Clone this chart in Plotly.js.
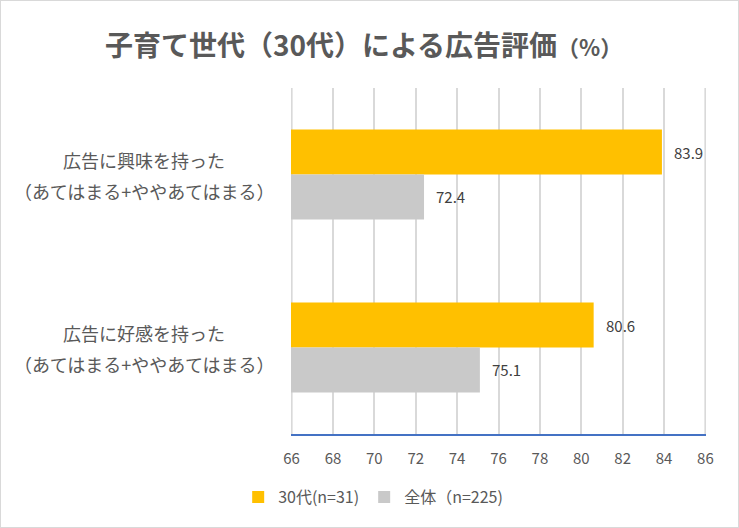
<!DOCTYPE html>
<html>
<head>
<meta charset="utf-8">
<script src="https://cdn.plot.ly/plotly-3.0.1.min.js"></script>
<style>
html,body{margin:0;padding:0;background:#fff;}
#chart{width:737px;height:526px;border:1px solid #D9D9D9;}
</style>
</head>
<body>
<div id="chart"></div>
<script>
const categories = ["広告に興味を持った\n（あてはまる+ややあてはまる）", "広告に好感を持った\n（あてはまる+ややあてはまる）"];
const series30s = [83.9, 80.6];
const seriesAll = [72.4, 75.1];
const seriesNames = ["30代(n=31)", "全体（n=225)"];
const xTicks = [66, 68, 70, 72, 74, 76, 78, 80, 82, 84, 86];

const FONT = '"Noto Sans CJK JP", "Noto Sans", sans-serif';
const catIds = categories.map((c, i) => 'c' + i);

const traces = [
  {type: 'bar', orientation: 'h', name: seriesNames[0], y: catIds, x: series30s,
   marker: {color: '#FFC000'}, hoverinfo: 'x'},
  {type: 'bar', orientation: 'h', name: seriesNames[1], y: catIds, x: seriesAll,
   marker: {color: '#C9C9C9'}, hoverinfo: 'x'}
];

const annotations = [];
// value labels
[series30s, seriesAll].forEach((arr, si) => {
  arr.forEach((v, i) => {
    annotations.push({
      x: v, y: catIds[i], xref: 'x', yref: 'y', text: v.toFixed(1),
      showarrow: false, xanchor: 'left', xshift: 10,
      yshift: si === 0 ? 22 : -22,
      font: {family: FONT, size: 15, color: '#404040'}
    });
  });
});
// category labels (two lines each)
categories.forEach((c, i) => {
  const lines = c.split('\n');
  lines.forEach((ln, li) => {
    annotations.push({
      x: -0.354, y: catIds[i], xref: 'paper', yref: 'y', text: ln,
      showarrow: false, xanchor: 'center', yshift: li === 0 ? 15 : -16,
      font: {family: FONT, size: 18, color: '#595959'}
    });
  });
});

// edge gridlines (at first and last tick) that Plotly skips at the plot border
const shapes = [xTicks[0], xTicks[xTicks.length - 1]].map(v => ({
  type: 'line', xref: 'x', yref: 'paper', x0: v, x1: v, y0: 0, y1: 1,
  line: {color: '#D9D9D9', width: 2}, layer: 'below'
}));

const layout = {
  width: 737, height: 526,
  margin: {l: 290, r: 32, t: 87, b: 93, pad: 0, autoexpand: false},
  paper_bgcolor: '#fff', plot_bgcolor: '#fff',
  font: {family: FONT, color: '#595959'},
  title: {
    text: '<b>子育て世代（30代）による広告評価</b><span style="font-size:22px"><b>（%）</b></span>',
    font: {family: FONT, size: 28, color: '#595959'},
    x: 0.492, xanchor: 'center', y: 0.914, yanchor: 'middle'
  },
  barmode: 'group', bargap: 0.48, bargroupgap: 0,
  xaxis: {
    range: [65.97, 86.03], tickvals: xTicks, ticktext: xTicks.map(String),
    showgrid: true, gridcolor: '#D9D9D9', gridwidth: 2,
    showline: true, linecolor: '#4472C4', linewidth: 2,
    zeroline: false, ticks: '', ticklabelstandoff: 10,
    tickfont: {family: FONT, size: 15, color: '#595959'}, fixedrange: true
  },
  yaxis: {
    autorange: 'reversed', showticklabels: false, showgrid: false,
    zeroline: false, showline: false, ticks: '', fixedrange: true
  },
  showlegend: true,
  legend: {
    orientation: 'h', xref: 'container', yref: 'container',
    x: 0.505, xanchor: 'center', y: 0.057, yanchor: 'middle',
    font: {family: FONT, size: 16, color: '#595959'}, traceorder: 'normal',
    itemwidth: 30
  },
  shapes: shapes,
  annotations: annotations
};

Plotly.newPlot('chart', traces, layout, {displayModeBar: false, staticPlot: true});
</script>
</body>
</html>
